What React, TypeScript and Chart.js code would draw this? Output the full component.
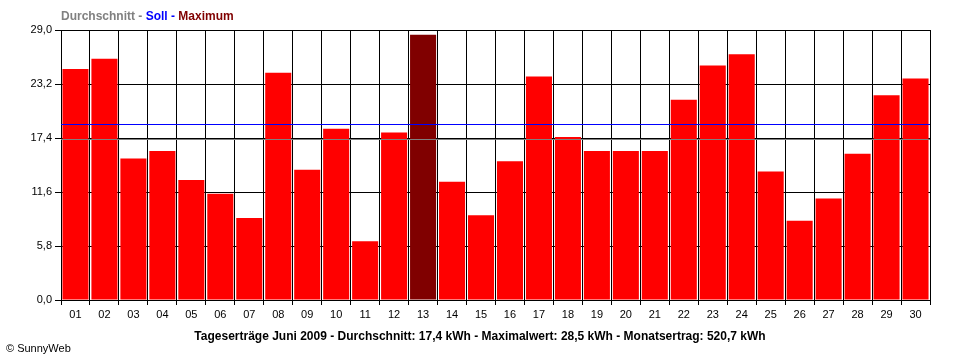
import React, { useEffect, useRef } from "react";
import { Chart, registerables } from "chart.js";

Chart.register(...registerables);

const days = ["01","02","03","04","05","06","07","08","09","10","11","12","13","14","15","16","17","18","19","20","21","22","23","24","25","26","27","28","29","30"];
const yields = [24.8,25.9,15.2,16.0,12.9,11.4,8.8,24.4,14.0,18.4,6.3,18.0,28.5,12.7,9.1,14.9,24.0,17.5,16.0,16.0,16.0,21.5,25.2,26.4,13.8,8.5,10.9,15.7,22.0,23.8];
const averageValue = 17.4;
const targetValue = 18.9;
const maxValue = 28.5;
const yTicks = [0, 5.8, 11.6, 17.4, 23.2, 29.0];
const legendParts = [
  { text: "Durchschnitt", color: "#808080" },
  { text: " - ", color: "#808080" },
  { text: "Soll", color: "#0000ff" },
  { text: " - ", color: "#0000ff" },
  { text: "Maximum", color: "#800000" },
];
const bottomTitle = "Tageserträge Juni 2009 - Durchschnitt: 17,4 kWh - Maximalwert: 28,5 kWh - Monatsertrag: 520,7 kWh";
const copyright = "© SunnyWeb";

const FONT = "'Liberation Sans', Arial, sans-serif";

const overlayPlugin = {
  id: "overlay",
  afterDatasetsDraw(chart: any) {
    const { ctx, chartArea, scales } = chart;
    const y = scales.y;
    ctx.save();
    const ya = Math.round(y.getPixelForValue(averageValue)) + 1.5;
    ctx.strokeStyle = "#808080";
    ctx.lineWidth = 1;
    ctx.beginPath();
    ctx.moveTo(chartArea.left, ya);
    ctx.lineTo(chartArea.right, ya);
    ctx.stroke();
    const ys = Math.round(y.getPixelForValue(targetValue)) + 0.5;
    ctx.strokeStyle = "#0000ff";
    ctx.beginPath();
    ctx.moveTo(chartArea.left, ys);
    ctx.lineTo(chartArea.right, ys);
    ctx.stroke();
    ctx.restore();
  },
  afterDraw(chart: any) {
    const { ctx, chartArea } = chart;
    ctx.save();
    ctx.font = "bold 12px " + FONT;
    ctx.textBaseline = "middle";
    ctx.textAlign = "left";
    let x = chartArea.left;
    for (const p of legendParts) {
      ctx.fillStyle = p.color;
      ctx.fillText(p.text, x, 16.5);
      x += ctx.measureText(p.text).width;
    }
    ctx.fillStyle = "#000000";
    ctx.font = "bold 12px " + FONT;
    ctx.textAlign = "center";
    ctx.fillText(bottomTitle, 480, 337);
    ctx.font = "11px " + FONT;
    ctx.textAlign = "left";
    ctx.fillText(copyright, 6, 349);
    ctx.restore();
  },
};

export default function App() {
  const ref = useRef<HTMLCanvasElement | null>(null);
  useEffect(() => {
    document.body.style.margin = "0";
    const canvas = ref.current!;
    const chart = new Chart(canvas, {
      type: "bar",
      data: {
        labels: days,
        datasets: [
          {
            data: yields,
            backgroundColor: yields.map((v) => (v === maxValue ? "#800000" : "#ff0000")),
            borderWidth: 0,
            categoryPercentage: 1.0,
            barPercentage: 0.9,
          },
        ],
      },
      options: {
        animation: false,
        responsive: false,
        devicePixelRatio: 1,
        layout: { padding: { top: 30, right: 30, left: 0, bottom: 0 } },
        plugins: { legend: { display: false }, tooltip: { enabled: false }, title: { display: false } },
        scales: {
          x: {
            offset: true,
            grid: { offset: true, color: "#000000", lineWidth: 1, tickLength: 5, drawOnChartArea: true },
            border: { color: "#000000" },
            ticks: { color: "#000000", font: { family: FONT, size: 11 }, padding: 3, maxRotation: 0, autoSkip: false },
            afterFit(scale: any) { scale.height = 60; },
          },
          y: {
            min: 0,
            max: 29,
            grid: { color: "#000000", lineWidth: 1, tickLength: 6 },
            border: { color: "#000000" },
            ticks: {
              color: "#000000",
              font: { family: FONT, size: 11 },
              padding: 3,
              callback: (v: any) => Number(v).toFixed(1).replace(".", ","),
            },
            afterBuildTicks(scale: any) { scale.ticks = yTicks.map((v) => ({ value: v })); },
            afterFit(scale: any) { scale.width = 61; },
          },
        },
      },
      plugins: [overlayPlugin],
    });
    return () => chart.destroy();
  }, []);
  return (
    <div style={{ width: 960, height: 360, background: "#ffffff" }}>
      <canvas ref={ref} width={960} height={360} style={{ display: "block" }} />
    </div>
  );
}
